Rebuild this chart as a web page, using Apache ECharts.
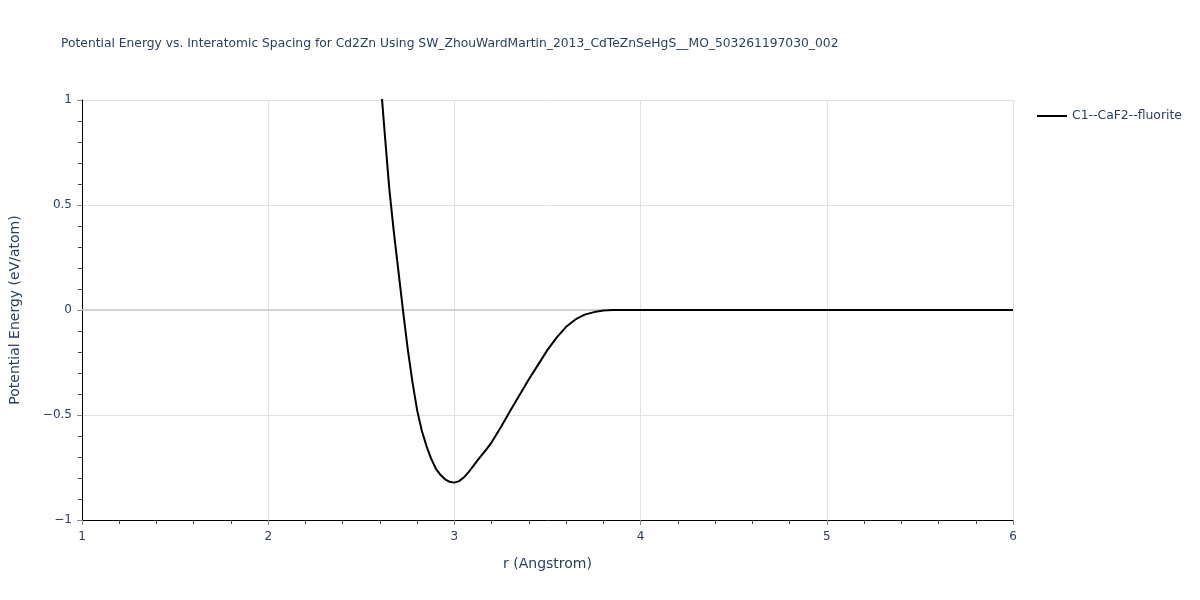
<!DOCTYPE html>
<html>
<head>
<meta charset="utf-8">
<script src="https://cdn.jsdelivr.net/npm/echarts@6/dist/echarts.min.js"></script>
<style>html,body{margin:0;padding:0;background:#fff}#c{width:1200px;height:600px}</style>
</head>
<body>
<div id="c"></div>
<script>
const titleText = 'Potential Energy vs. Interatomic Spacing for Cd2Zn Using SW_ZhouWardMartin_2013_CdTeZnSeHgS__MO_503261197030_002';
const seriesName = 'C1--CaF2--fluorite';
const rValues = [2.55, 2.60, 2.625, 2.65, 2.675, 2.70, 2.725, 2.75, 2.775, 2.80, 2.825, 2.85, 2.875, 2.90, 2.925, 2.95, 2.975, 3.00, 3.025, 3.05, 3.075, 3.10, 3.125, 3.15, 3.175, 3.20, 3.25, 3.30, 3.35, 3.40, 3.45, 3.50, 3.55, 3.60, 3.65, 3.70, 3.75, 3.80, 3.85, 3.90, 4.00, 4.50, 5.00, 5.50, 6.00];
const energyValues = [1.70, 1.13, 0.85, 0.58, 0.37, 0.18, -0.01, -0.19, -0.345, -0.478, -0.575, -0.648, -0.708, -0.755, -0.785, -0.806, -0.818, -0.822, -0.815, -0.798, -0.773, -0.745, -0.715, -0.688, -0.66, -0.63, -0.557, -0.48, -0.405, -0.33, -0.26, -0.19, -0.13, -0.08, -0.045, -0.022, -0.01, -0.002, 0, 0, 0, 0, 0, 0, 0];
const xTicks = [1, 2, 3, 4, 5, 6];
const yTicks = [-1, -0.5, 0, 0.5, 1];

const fontFam = '"DejaVu Sans", Verdana, sans-serif';
const txtColor = '#2a3f5f';
const chart = echarts.init(document.getElementById('c'));
chart.setOption({
  animation: false,
  title: {
    text: titleText, left: 56, top: 33,
    textStyle: { fontFamily: fontFam, fontSize: 12.3, fontWeight: 'normal', color: txtColor }
  },
  legend: {
    left: 1032, top: 105, orient: 'vertical',
    itemWidth: 30, itemHeight: 2, itemGap: 10,
    icon: 'rect',
    textStyle: { fontFamily: fontFam, fontSize: 12.4, color: txtColor },
    data: [{ name: seriesName, icon: 'rect' }]
  },
  grid: { left: 80, right: 187, top: 100, bottom: 80, containLabel: false },
  xAxis: {
    type: 'value', min: xTicks[0], max: xTicks[xTicks.length - 1], interval: 1,
    name: 'r (Angstrom)', nameLocation: 'middle', nameGap: 37,
    nameTextStyle: { fontFamily: fontFam, fontSize: 14, color: txtColor },
    axisLine: { onZero: false, lineStyle: { color: '#000', width: 1 } },
    axisTick: { show: true, length: 5, lineStyle: { color: '#888' } },
    minorTick: { show: true, splitNumber: 5, length: 4, lineStyle: { color: '#444' } },
    axisLabel: { fontFamily: fontFam, fontSize: 12, color: txtColor, margin: 11 },
    splitLine: { show: true, lineStyle: { color: '#e1e1e1', width: 1 } }
  },
  yAxis: {
    type: 'value', min: yTicks[0], max: yTicks[yTicks.length - 1], interval: 0.5,
    name: 'Potential Energy (eV/atom)', nameLocation: 'middle', nameGap: 60,
    nameTextStyle: { fontFamily: fontFam, fontSize: 14, color: txtColor },
    axisLine: { show: true, onZero: false, lineStyle: { color: '#000', width: 1 } },
    axisTick: { show: true, length: 5, lineStyle: { color: '#888' } },
    minorTick: { show: true, splitNumber: 5, length: 4, lineStyle: { color: '#444' } },
    axisLabel: { fontFamily: fontFam, fontSize: 12, color: txtColor, margin: 10,
      formatter: v => String(v).replace('-', '\u2212') },
    splitLine: { show: true, lineStyle: { color: '#e1e1e1', width: 1 } }
  },
  series: [{
    name: seriesName, type: 'line', showSymbol: false, symbol: 'none', clip: true,
    smooth: false,
    lineStyle: { color: '#000', width: 2 }, itemStyle: { color: '#000' },
    data: rValues.map((r, i) => [r, energyValues[i]]),
    markLine: {
      silent: true, symbol: ['none', 'none'], label: { show: false },
      lineStyle: { color: '#c8c8c8', width: 1.5, type: 'solid' },
      data: [{ yAxis: 0 }], z: 1
    }
  }]
});
</script>
</body>
</html>
